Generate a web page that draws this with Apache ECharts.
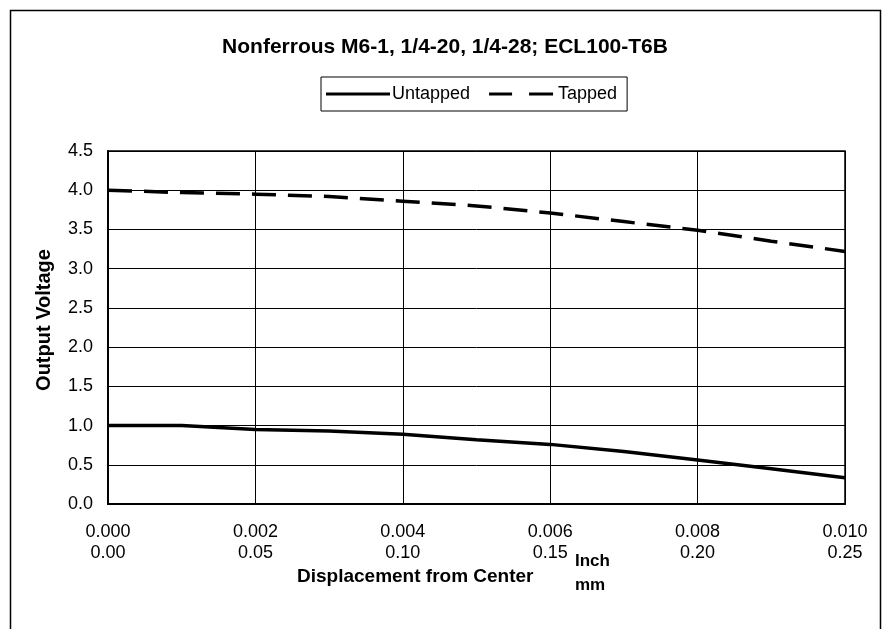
<!DOCTYPE html>
<html>
<head>
<meta charset="utf-8">
<script src="https://cdn.jsdelivr.net/npm/echarts@6/dist/echarts.min.js"></script>
<style>html,body{margin:0;padding:0;background:#fff;}#c{width:890px;height:629px;}</style>
</head>
<body>
<div id="c"></div>
<script>
const displacementInch = [0.000, 0.001, 0.002, 0.003, 0.004, 0.005, 0.006, 0.007, 0.008, 0.009, 0.010];
const untapped = [1.00, 1.00, 0.95, 0.93, 0.89, 0.82, 0.76, 0.67, 0.56, 0.45, 0.335];
const tapped = [4.00, 3.97, 3.95, 3.92, 3.86, 3.80, 3.71, 3.60, 3.49, 3.35, 3.22];
const inchTicks = ['0.000', '0.002', '0.004', '0.006', '0.008', '0.010'];
const mmTicks = ['0.00', '0.05', '0.10', '0.15', '0.20', '0.25'];
const yTicks = ['0.0','0.5','1.0','1.5','2.0','2.5','3.0','3.5','4.0','4.5'];

const FONT = 'Liberation Sans, Arial, sans-serif';
const chart = echarts.init(document.getElementById('c'), null, {renderer: 'canvas'});
const pairs = (ys) => displacementInch.map((x, i) => [x, ys[i]]);

chart.setOption({
  animation: false,
  backgroundColor: '#fff',
  title: {
    text: 'Nonferrous M6-1, 1/4-20, 1/4-28; ECL100-T6B',
    left: 'center', top: 32,
    textStyle: {fontFamily: FONT, fontSize: 21, fontWeight: 'bold', color: '#000'}
  },
  legend: {
    left: 321, top: 77,
    padding: [8, 10, 8, 5],
    borderColor: '#000', borderWidth: 1,
    itemWidth: 64, itemHeight: 3, itemGap: 19,
    symbolKeepAspect: false,
    textStyle: {fontFamily: FONT, fontSize: 18, color: '#000', padding: [0, 0, 0, -3]},
    data: [
      {name: 'Untapped', icon: 'rect'},
      {name: 'Tapped', icon: 'path://M0,0h23v3h-23z M40,0h24v3h-24z', textStyle: {padding: [0, 0, 0, 0]}}
    ]
  },
  grid: {
    left: 108, right: 45, top: 151, bottom: 125,
    show: true, borderColor: '#000', borderWidth: 1.5, backgroundColor: '#fff'
  },
  xAxis: {
    type: 'value', min: 0, max: 0.010, interval: 0.002,
    axisLine: {show: true, lineStyle: {color: '#000', width: 2}},
    axisTick: {show: false},
    splitLine: {show: true, lineStyle: {color: '#000', width: 1}},
    axisLabel: {
      margin: 18,
      fontFamily: FONT, fontSize: 18, color: '#000', lineHeight: 21,
      formatter: (v) => {
        const i = Math.round(v / 0.002);
        return inchTicks[i] + '\n' + mmTicks[i];
      }
    }
  },
  yAxis: {
    type: 'value', min: 0, max: 4.5, interval: 0.5,
    axisLine: {show: true, lineStyle: {color: '#000', width: 2}},
    axisTick: {show: false},
    splitLine: {show: true, lineStyle: {color: '#000', width: 1}},
    axisLabel: {
      margin: 15, fontFamily: FONT, fontSize: 18, color: '#000',
      formatter: (v) => yTicks[Math.round(v / 0.5)]
    }
  },
  series: [
    {
      name: 'Untapped', type: 'line', data: pairs(untapped),
      symbol: 'none', color: '#000',
      lineStyle: {color: '#000', width: 3.5, type: 'solid'}
    },
    {
      name: 'Tapped', type: 'line', data: pairs(tapped),
      symbol: 'none', color: '#000',
      lineStyle: {color: '#000', width: 3.5, type: [24, 12]}
    }
  ],
  graphic: [
    {type: 'rect', left: 8, top: 8, shape: {width: 870, height: 700},
      style: {fill: null, stroke: '#000', lineWidth: 1.5}, silent: true, z: -1},
    {type: 'text', x: 44, y: 320, rotation: Math.PI / 2,
      style: {text: 'Output Voltage', font: 'bold 20px ' + FONT, fill: '#000',
        align: 'center', verticalAlign: 'middle'}},
    {type: 'text', left: 297, top: 567,
      style: {text: 'Displacement from Center', font: 'bold 19px ' + FONT, fill: '#000'}},
    {type: 'text', left: 575, top: 553,
      style: {text: 'Inch', font: 'bold 17px ' + FONT, fill: '#000'}},
    {type: 'text', left: 575, top: 577,
      style: {text: 'mm', font: 'bold 17px ' + FONT, fill: '#000'}}
  ]
});
</script>
</body>
</html>
